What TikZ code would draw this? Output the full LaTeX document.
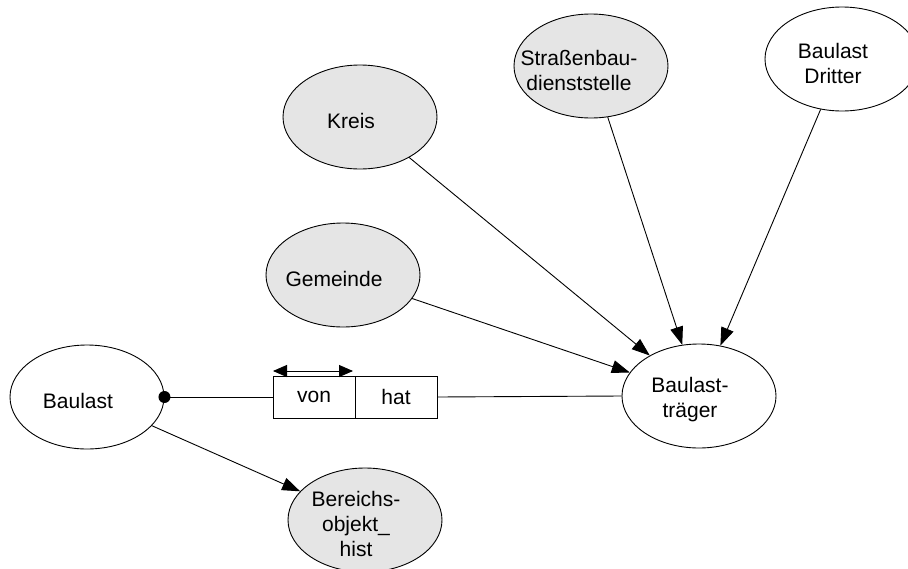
\documentclass[tikz,border=0pt]{standalone}
\usepackage{fontspec}
\setmainfont{Liberation Sans}
\usetikzlibrary{shapes.geometric,arrows.meta}
\begin{document}
\begin{tikzpicture}[x=1pt,y=-1pt,
  ent/.style={ellipse,draw,line width=0.9pt,minimum width=154pt,minimum height=104pt,inner sep=0pt},
  gent/.style={ent,fill=black!10},
  lbl/.style={align=center,font=\fontsize{21}{25}\selectfont,xshift=-9pt,yshift=-4pt},
  conn/.style={line width=0.9pt},
  arr/.style={conn,-{Triangle[length=18pt,width=13pt]}},
  darr/.style={conn,{Triangle[length=14pt,width=12pt]}-{Triangle[length=14pt,width=12pt]}},
  cell/.style={rectangle,draw,line width=0.9pt,minimum width=82pt,minimum height=42pt,inner sep=0pt,font=\fontsize{21}{25}\selectfont}]
\useasboundingbox (0,0) rectangle (908,568);
\node[ent,label={[lbl]center:Baulast}] (baulast) at (87,397) {};
\node[ent,label={[lbl]center:Baulast-\\träger}] (traeger) at (699,396) {};
\node[gent,label={[lbl]center:Kreis}] (kreis) at (360,117) {};
\node[gent,label={[lbl]center:Gemeinde}] (gemeinde) at (343,275) {};
\node[gent,label={[lbl,xshift=-3pt]center:Straßenbau-\\dienststelle}] (strasse) at (591,66) {};
\node[ent,label={[lbl]center:Baulast\\Dritter}] (dritter) at (842,59) {};
\node[gent,label={[lbl]center:Bereichs-\\objekt\_\\hist}] (bereich) at (365,520) {};
\node[cell] (von) at (314,397) {von};
\node[cell] (hat) at (396,397) {hat};
\coordinate (d1) at (273,371);
\coordinate (d2) at (353,371);
\draw[conn] (baulast.east) -- (von.west);
\draw[conn] (hat.east) -- (traeger.west);
\fill (baulast.east) circle (6pt);
\draw[darr] (d1) -- (d2);
\draw[arr] (kreis) -- (traeger);
\draw[arr] (gemeinde) -- (traeger);
\draw[arr] (strasse) -- (traeger);
\draw[arr] (dritter) -- (traeger);
\draw[arr] (baulast) -- (bereich);
\end{tikzpicture}
\end{document}
